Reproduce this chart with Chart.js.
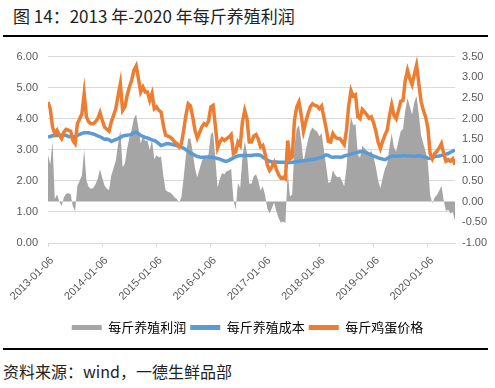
<!DOCTYPE html>
<html>
<head>
<meta charset="utf-8">
<script src="https://cdn.jsdelivr.net/npm/chart.js@4"></script>
<style>
  html, body { margin: 0; padding: 0; background: #fff; }
  body { width: 495px; height: 388px; position: relative; overflow: hidden; }
  #title { position: absolute; left: 13px; top: 3px; font: 17px "Noto Sans CJK SC", sans-serif; color: #222; white-space: nowrap; }
  .rule { position: absolute; left: 3px; width: 485px; height: 2px; background: #000; }
  #src { position: absolute; left: 3px; top: 359px; font: 16px "Noto Sans CJK SC", sans-serif; color: #222; white-space: nowrap; }
  #wrap { position: absolute; left: 0; top: 40px; width: 495px; height: 306px; }
</style>
</head>
<body>
<div id="title">图 14：2013 年-2020 年每斤养殖利润</div>
<div class="rule" style="top:35px"></div>
<div id="wrap"><canvas id="c" width="495" height="306"></canvas></div>
<div class="rule" style="top:348px"></div>
<div id="src">资料来源：wind，一德生鲜品部</div>
<script>
// x axis: half-month steps starting 2013-01-06 (index 0 .. 180)
const tickLabels = ['2013-01-06','2014-01-06','2015-01-06','2016-01-06','2017-01-06','2018-01-06','2019-01-06','2020-01-06'];
const seriesNames = ['每斤养殖利润','每斤养殖成本','每斤鸡蛋价格'];

// 每斤鸡蛋价格 (left axis)
const eggPrice = [
4.54,4.32,3.73,3.52,3.63,3.47,3.36,3.57,3.66,3.63,3.60,3.30,3.20,3.84,4.00,4.16,4.81,4.06,3.90,3.84,
3.84,3.90,4.00,4.20,3.95,3.73,3.66,3.60,3.90,4.11,4.32,4.75,5.13,4.27,4.38,4.75,5.02,5.24,5.56,5.70,
5.29,4.86,5.02,4.86,4.86,4.59,4.81,4.32,4.38,4.27,4.22,3.79,3.47,3.44,3.41,3.34,3.25,3.20,3.09,3.20,
3.63,4.11,4.48,4.41,4.06,3.63,3.38,3.55,3.73,3.84,3.79,3.92,4.38,4.43,3.79,3.06,3.25,3.36,3.30,3.36,
3.41,3.49,2.88,2.93,3.25,3.14,3.90,4.27,4.00,3.25,3.25,3.44,3.49,3.34,3.09,3.14,2.88,2.50,2.34,2.45,
2.59,2.37,2.20,2.09,2.12,2.07,3.30,2.71,2.77,3.95,4.38,4.54,4.11,3.60,3.90,4.16,4.38,4.48,4.43,4.41,
4.32,4.41,4.06,3.70,3.27,3.25,3.52,3.41,3.36,3.36,3.27,3.17,3.63,4.43,4.91,4.73,4.77,4.06,4.00,4.30,
4.22,4.13,4.02,4.06,3.87,3.60,3.25,3.04,3.27,3.47,3.63,4.09,4.45,4.11,4.00,4.27,4.56,4.59,5.24,5.56,
5.29,5.10,5.42,5.72,5.13,4.56,4.27,4.06,3.70,2.88,2.71,2.88,2.95,3.06,3.20,2.88,2.63,2.68,2.63,2.71,
2.52
];

// 每斤养殖成本 (left axis)
const feedCost = [
3.41,3.43,3.45,3.46,3.46,3.47,3.47,3.47,3.47,3.43,3.42,3.42,3.43,3.46,3.50,3.53,3.55,3.55,3.55,3.53,
3.51,3.48,3.45,3.42,3.38,3.34,3.35,3.32,3.27,3.30,3.33,3.36,3.40,3.44,3.46,3.47,3.48,3.50,3.55,3.57,
3.52,3.46,3.43,3.40,3.38,3.35,3.32,3.30,3.26,3.20,3.14,3.16,3.19,3.20,3.19,3.17,3.15,3.14,3.12,3.09,
3.05,3.00,2.95,2.90,2.86,2.82,2.79,2.77,2.76,2.76,2.77,2.77,2.76,2.75,2.74,2.72,2.70,2.67,2.64,2.63,
2.66,2.70,2.74,2.78,2.80,2.82,2.82,2.82,2.82,2.82,2.82,2.83,2.83,2.84,2.82,2.77,2.72,2.67,2.63,2.61,
2.61,2.61,2.60,2.60,2.60,2.59,2.58,2.59,2.60,2.61,2.62,2.63,2.64,2.65,2.66,2.67,2.68,2.69,2.70,2.72,
2.74,2.76,2.80,2.84,2.82,2.77,2.76,2.77,2.77,2.76,2.77,2.80,2.82,2.84,2.86,2.89,2.90,2.92,2.94,2.95,
2.93,2.90,2.86,2.83,2.80,2.77,2.74,2.72,2.70,2.68,2.72,2.77,2.80,2.80,2.79,2.80,2.80,2.81,2.81,2.80,
2.80,2.79,2.79,2.80,2.81,2.80,2.78,2.76,2.73,2.72,2.75,2.78,2.79,2.80,2.82,2.84,2.86,2.88,2.92,2.96,
2.99
];

// 每斤养殖利润 (right axis)
const profit = [
1.13,0.89,1.45,0.06,0.17,0.00,-0.11,0.10,0.19,0.20,0.18,-0.12,-0.23,0.38,0.50,0.63,1.26,0.51,0.35,0.31,
0.33,0.42,0.55,0.78,0.57,0.39,0.31,0.28,0.63,0.81,0.99,1.39,1.73,0.83,0.92,1.28,1.54,1.74,2.01,2.10,
1.77,1.40,1.59,1.46,1.48,1.24,1.49,1.02,1.12,1.07,1.08,0.63,0.28,0.24,0.22,0.17,0.10,0.06,-0.03,0.11,
0.58,1.11,1.53,1.51,1.20,0.81,0.59,0.78,0.97,1.08,1.02,1.15,1.62,1.68,1.05,0.34,0.55,0.69,0.66,0.73,
0.75,0.79,0.05,-0.20,0.45,0.32,1.08,1.45,1.18,0.43,0.43,0.61,0.66,0.50,0.27,0.37,0.16,-0.17,-0.29,-0.16,
-0.02,-0.24,-0.40,-0.51,-0.48,-0.52,0.72,0.12,0.17,1.34,1.76,1.85,1.47,0.95,1.24,1.49,1.70,1.79,1.73,1.69,
1.58,1.65,1.26,0.86,0.45,0.48,0.76,0.64,0.59,0.60,0.50,0.37,0.81,1.59,2.05,1.84,1.87,1.14,1.06,1.35,
1.29,1.23,1.16,1.23,1.07,0.83,0.51,0.32,0.57,0.79,0.91,1.32,1.65,1.31,1.21,1.47,1.70,1.75,2.20,2.50,
2.30,2.10,2.40,2.55,2.10,1.60,1.40,1.20,0.97,0.16,-0.04,0.10,0.16,0.26,0.38,0.04,-0.23,-0.20,-0.29,-0.25,
-0.47
];

const toXY = arr => arr.map((v, i) => ({ x: i, y: v }));
const tickFont = { family: '"Liberation Sans", "DejaVu Sans", sans-serif', size: 11 };
const tickColor = '#595959';

new Chart(document.getElementById('c'), {
  type: 'line',
  data: {
    datasets: [
      { label: seriesNames[0], data: toXY(profit), yAxisID: 'y1', fill: 'origin',
        backgroundColor: '#a5a5a5', borderColor: '#a5a5a5', borderWidth: 0, pointRadius: 0, tension: 0, order: 3 },
      { label: seriesNames[1], data: toXY(feedCost), yAxisID: 'y', fill: false,
        borderColor: '#5b9bd5', backgroundColor: '#5b9bd5', borderWidth: 3.5, pointRadius: 0, tension: 0, order: 2 },
      { label: seriesNames[2], data: toXY(eggPrice), yAxisID: 'y', fill: false,
        borderColor: '#ed7d31', backgroundColor: '#ed7d31', borderWidth: 3.5, pointRadius: 0, tension: 0, order: 1 }
    ]
  },
  options: {
    responsive: false,
    animation: false,
    devicePixelRatio: 1,
    layout: { padding: { left: 0, right: 0, top: 12, bottom: 2 } },
    plugins: {
      tooltip: { enabled: false },
      legend: {
        position: 'bottom',
        labels: {
          boxWidth: 30, boxHeight: 5, padding: 4,
          color: '#595959',
          font: { family: '"Noto Sans CJK SC", sans-serif', size: 13 },
          generateLabels: chart => chart.data.datasets.map((d, i) => ({
            text: d.label, fillStyle: d.backgroundColor, strokeStyle: d.backgroundColor,
            lineWidth: 0, hidden: false, datasetIndex: i
          }))
        }
      }
    },
    scales: {
      x: {
        type: 'linear', min: 0, max: 180,
        afterBuildTicks: s => { s.ticks = tickLabels.map((_, i) => ({ value: i * 24 })); },
        afterFit: s => { s.height = 74; },
        ticks: {
          autoSkip: false, maxRotation: 45, minRotation: 45, padding: 7, labelOffset: 4,
          color: tickColor, font: tickFont,
          callback: v => tickLabels[v / 24]
        },
        grid: { display: true, drawOnChartArea: false, drawTicks: true, tickLength: 4, color: '#d9d9d9' },
        border: { display: true, color: '#d9d9d9' }
      },
      y: {
        position: 'left', min: 0, max: 6,
        afterFit: s => { s.width = 48; },
        ticks: { stepSize: 1, padding: 10, color: tickColor, font: tickFont, callback: v => v.toFixed(2) },
        grid: { color: '#d9d9d9', drawTicks: false },
        border: { display: false }
      },
      y1: {
        position: 'right', min: -1, max: 3.5,
        afterFit: s => { s.width = 40; },
        ticks: { stepSize: 0.5, padding: 7, color: tickColor, font: tickFont, callback: v => v.toFixed(2) },
        grid: { drawOnChartArea: false, drawTicks: false },
        border: { display: false }
      }
    }
  }
});
</script>
</body>
</html>
